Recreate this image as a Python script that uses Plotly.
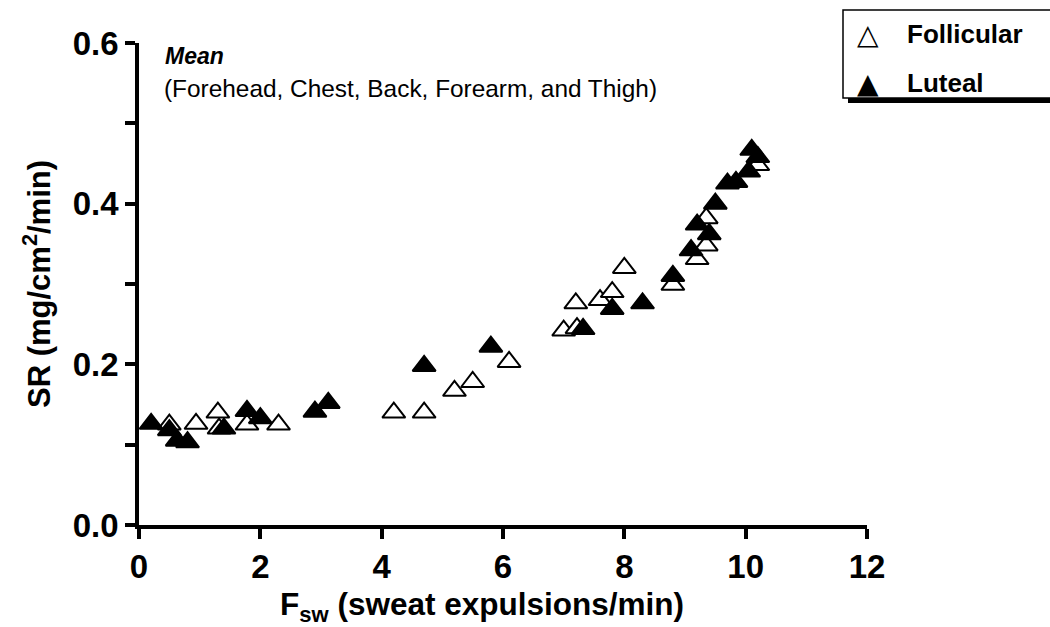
import plotly.graph_objects as go

# Sweat rate vs. sweat expulsion frequency, mean of five body sites
follicular_x = [0.5, 0.94, 1.3, 1.32, 1.78, 2.3, 4.2, 4.7, 5.2, 5.5, 6.1,
                7.0, 7.22, 7.2, 7.6, 7.8, 8.0, 8.8, 9.2, 9.35, 9.35, 10.2]
follicular_y = [0.125, 0.126, 0.14, 0.12, 0.125, 0.125, 0.14, 0.14, 0.167, 0.178, 0.203,
                0.242, 0.245, 0.276, 0.28, 0.29, 0.32, 0.299, 0.331, 0.348, 0.382, 0.448]

luteal_x = [0.2, 0.5, 0.63, 0.8, 1.4, 1.78, 2.0, 2.9, 3.12, 4.7, 5.8, 7.32,
            7.8, 8.3, 8.8, 9.1, 9.2, 9.4, 9.5, 9.7, 9.84, 10.05, 10.1, 10.2]
luteal_y = [0.126, 0.118, 0.105, 0.103, 0.12, 0.142, 0.133, 0.141, 0.152, 0.198, 0.222, 0.244,
            0.269, 0.276, 0.31, 0.342, 0.374, 0.362, 0.4, 0.425, 0.427, 0.44, 0.467, 0.458]

x_ticks = [0, 2, 4, 6, 8, 10, 12]
y_ticks = [0.0, 0.1, 0.2, 0.3, 0.4, 0.5, 0.6]
y_tick_text = ["0.0", "", "0.2", "", "0.4", "", "0.6"]

FONT = "Arial, Liberation Sans, Helvetica, sans-serif"
W, H = 1050, 627
L, R, T, B = 139, 183, 43, 102
PW, PH = W - L - R, H - T - B


def px(x):
    return (x - L) / PW


def py(y):
    return (H - B - y) / PH


fig = go.Figure()
fig.add_trace(go.Scatter(
    x=follicular_x, y=follicular_y, mode="markers", name="Follicular",
    marker=dict(symbol="triangle-up", size=20, color="white",
                line=dict(color="black", width=2)),
    cliponaxis=False, showlegend=False))
fig.add_trace(go.Scatter(
    x=luteal_x, y=luteal_y, mode="markers", name="Luteal",
    marker=dict(symbol="triangle-up", size=20, color="black",
                line=dict(color="black", width=2)),
    cliponaxis=False, showlegend=False))

axis_common = dict(showline=True, linecolor="black", linewidth=3.5,
                   ticks="outside", ticklen=10, tickwidth=3.5, tickcolor="black",
                   showgrid=False, zeroline=False, automargin=False,
                   tickfont=dict(family=FONT, size=33, color="black", weight="bold"))

fig.update_xaxes(range=[0, 12], tickvals=x_ticks, **axis_common)
fig.update_yaxes(range=[0, 0.6], tickvals=y_ticks, ticktext=y_tick_text, **axis_common,
                 title=dict(text="SR (mg/cm<sup>2</sup>/min)",
                            font=dict(family=FONT, size=31, color="black", weight="bold"),
                            standoff=14))

# Legend box with drop shadow
shapes = [
    dict(type="rect", xref="paper", yref="paper", x0=px(848), x1=px(1070),
         y0=py(103), y1=py(15), fillcolor="black", line=dict(width=0), layer="above"),
    dict(type="rect", xref="paper", yref="paper", x0=px(843), x1=px(1065),
         y0=py(98), y1=py(10), fillcolor="white", line=dict(color="black", width=1.5),
         layer="above"),
]

annotations = [
    dict(text="<b>F<sub>sw</sub> (sweat expulsions/min)</b>", x=px(482), y=py(606),
         xref="paper", yref="paper", xanchor="center", yanchor="middle", showarrow=False,
         font=dict(family=FONT, size=31.5, color="black")),
    dict(text="<b><i>Mean</i></b>", x=px(163), y=py(56), xref="paper", yref="paper",
         xanchor="left", yanchor="middle", showarrow=False,
         font=dict(family=FONT, size=23, color="black")),
    dict(text="(Forehead, Chest, Back, Forearm, and Thigh)", x=px(162), y=py(88),
         xref="paper", yref="paper", xanchor="left", yanchor="middle", showarrow=False,
         font=dict(family=FONT, size=24.4, color="black")),
    dict(text="△", x=px(868), y=py(34), xref="paper", yref="paper",
         xanchor="center", yanchor="middle", showarrow=False,
         font=dict(family="DejaVu Sans", size=28, color="black")),
    dict(text="▲", x=px(868), y=py(83), xref="paper", yref="paper",
         xanchor="center", yanchor="middle", showarrow=False,
         font=dict(family="DejaVu Sans", size=28, color="black")),
    dict(text="<b>Follicular</b>", x=px(905), y=py(34), xref="paper", yref="paper",
         xanchor="left", yanchor="middle", showarrow=False,
         font=dict(family=FONT, size=26, color="black")),
    dict(text="<b>Luteal</b>", x=px(905), y=py(83), xref="paper", yref="paper",
         xanchor="left", yanchor="middle", showarrow=False,
         font=dict(family=FONT, size=26, color="black")),
]

fig.update_layout(
    width=W, height=H,
    margin=dict(l=L, r=R, t=T, b=B),
    paper_bgcolor="white", plot_bgcolor="white",
    shapes=shapes, annotations=annotations,
    font=dict(family=FONT, color="black"),
)

fig.write_html("out.html")
